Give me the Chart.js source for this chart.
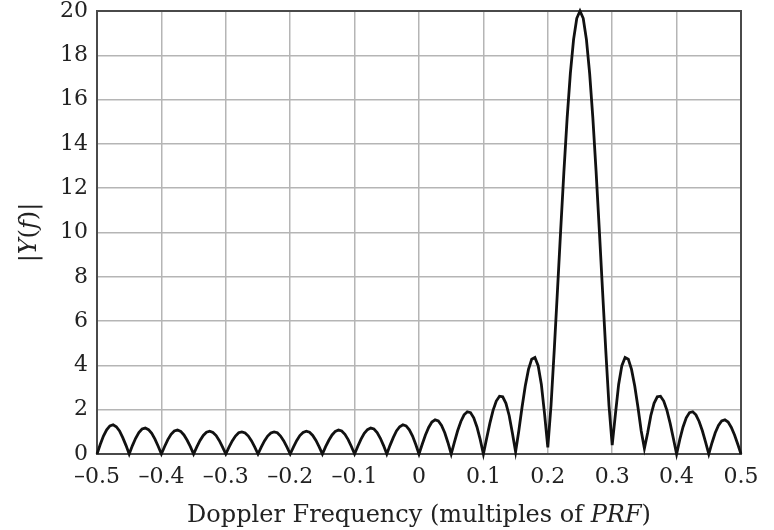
<!DOCTYPE html>
<html>
<head>
<meta charset="utf-8">
<script src="https://cdn.jsdelivr.net/npm/chart.js@4"></script>
<style>
  body { margin: 0; background: #fff; }
</style>
</head>
<body>
<canvas id="chart" width="774" height="530"></canvas>
<script>
// sample frequencies (multiples of PRF)
const freqs = [
  -0.5, -0.495, -0.49, -0.485, -0.48, -0.475, -0.47, -0.465, -0.46, -0.455,
  -0.45, -0.445, -0.44, -0.435, -0.43, -0.425, -0.42, -0.415, -0.41, -0.405,
  -0.4, -0.395, -0.39, -0.385, -0.38, -0.375, -0.37, -0.365, -0.36, -0.355,
  -0.35, -0.345, -0.34, -0.335, -0.33, -0.325, -0.32, -0.315, -0.31, -0.305,
  -0.3, -0.295, -0.29, -0.285, -0.28, -0.275, -0.27, -0.265, -0.26, -0.255,
  -0.25, -0.245, -0.24, -0.235, -0.23, -0.225, -0.22, -0.215, -0.21, -0.205,
  -0.2, -0.195, -0.19, -0.185, -0.18, -0.175, -0.17, -0.165, -0.16, -0.155,
  -0.15, -0.145, -0.14, -0.135, -0.13, -0.125, -0.12, -0.115, -0.11, -0.105,
  -0.1, -0.095, -0.09, -0.085, -0.08, -0.075, -0.07, -0.065, -0.06, -0.055,
  -0.05, -0.045, -0.04, -0.035, -0.03, -0.025, -0.02, -0.015, -0.01, -0.005,
  0, 0.005, 0.01, 0.015, 0.02, 0.025, 0.03, 0.035, 0.04, 0.045,
  0.05, 0.055, 0.06, 0.065, 0.07, 0.075, 0.08, 0.085, 0.09, 0.095,
  0.1, 0.105, 0.11, 0.115, 0.12, 0.125, 0.13, 0.135, 0.14, 0.145,
  0.15, 0.155, 0.16, 0.165, 0.17, 0.175, 0.18, 0.185, 0.19, 0.195,
  0.2, 0.205, 0.21, 0.215, 0.22, 0.225, 0.23, 0.235, 0.24, 0.245,
  0.25, 0.255, 0.26, 0.265, 0.27, 0.275, 0.28, 0.285, 0.29, 0.295,
  0.3, 0.305, 0.31, 0.315, 0.32, 0.325, 0.33, 0.335, 0.34, 0.345,
  0.35, 0.355, 0.36, 0.365, 0.37, 0.375, 0.38, 0.385, 0.39, 0.395,
  0.4, 0.405, 0.41, 0.415, 0.42, 0.425, 0.43, 0.435, 0.44, 0.445,
  0.45, 0.455, 0.46, 0.465, 0.47, 0.475, 0.48, 0.485, 0.49, 0.495,
  0.5
];

// |Y(f)|
const magnitude = [
  0, 0.43, 0.81, 1.09, 1.27, 1.32, 1.23, 1.04, 0.74, 0.39,
  0, 0.38, 0.71, 0.97, 1.13, 1.17, 1.10, 0.93, 0.67, 0.35,
  0, 0.34, 0.65, 0.89, 1.04, 1.08, 1.02, 0.86, 0.62, 0.33,
  0, 0.32, 0.61, 0.84, 0.98, 1.03, 0.97, 0.83, 0.60, 0.31,
  0, 0.31, 0.59, 0.81, 0.96, 1.00, 0.95, 0.81, 0.59, 0.31,
  0, 0.31, 0.59, 0.81, 0.95, 1.00, 0.96, 0.81, 0.59, 0.31,
  0, 0.31, 0.60, 0.83, 0.97, 1.03, 0.98, 0.84, 0.61, 0.32,
  0, 0.33, 0.62, 0.86, 1.02, 1.08, 1.04, 0.89, 0.65, 0.34,
  0, 0.35, 0.67, 0.93, 1.10, 1.17, 1.13, 0.97, 0.71, 0.38,
  0, 0.39, 0.74, 1.04, 1.23, 1.32, 1.27, 1.09, 0.81, 0.43,
  0, 0.44, 0.86, 1.20, 1.44, 1.54, 1.49, 1.29, 0.96, 0.51,
  0, 0.54, 1.05, 1.47, 1.77, 1.91, 1.87, 1.63, 1.22, 0.66,
  0, 0.70, 1.38, 1.97, 2.39, 2.61, 2.58, 2.29, 1.74, 0.95,
  0.1, 1.05, 2.11, 3.07, 3.82, 4.28, 4.36, 3.99, 3.14, 1.80,
  0.3, 2.19, 4.69, 7.37, 10.11, 12.75, 15.15, 17.17, 18.71, 19.67,
  20, 19.67, 18.71, 17.17, 15.15, 12.75, 10.11, 7.37, 4.69, 2.19,
  0.4, 1.80, 3.14, 3.99, 4.36, 4.28, 3.82, 3.07, 2.11, 1.05,
  0.25, 0.95, 1.74, 2.29, 2.58, 2.61, 2.39, 1.97, 1.38, 0.70,
  0, 0.66, 1.22, 1.63, 1.87, 1.91, 1.77, 1.47, 1.05, 0.54,
  0, 0.51, 0.96, 1.29, 1.49, 1.54, 1.44, 1.20, 0.86, 0.44,
  0
];

const xTitle = [['Doppler Frequency (multiples of ', false], ['PRF', true], [')', false]];
const yTitle = [['|', false], ['Y', true], ['(', false], ['f', true], [')|', false]];

const serif = '"DejaVu Serif", "Liberation Serif", serif';

function drawMixed(ctx, parts, size) {
  let total = 0;
  parts.forEach(p => {
    ctx.font = (p[1] ? 'italic ' : '') + size + 'px ' + serif;
    total += ctx.measureText(p[0]).width;
  });
  let x = -total / 2;
  parts.forEach(p => {
    ctx.font = (p[1] ? 'italic ' : '') + size + 'px ' + serif;
    ctx.fillText(p[0], x, 0);
    x += ctx.measureText(p[0]).width;
  });
}

const framePlugin = {
  id: 'frame',
  beforeDatasetsDraw(chart) {
    const { ctx, chartArea: a } = chart;
    ctx.save();
    ctx.strokeStyle = '#4a4a4a';
    ctx.lineWidth = 2;
    ctx.strokeRect(a.left, a.top, a.right - a.left, a.bottom - a.top);
    ctx.restore();
  },
  afterDraw(chart) {
    const { ctx, chartArea: a } = chart;
    ctx.save();
    ctx.fillStyle = '#222';
    ctx.textBaseline = 'middle';
    ctx.translate((a.left + a.right) / 2, 516);
    drawMixed(ctx, xTitle, 24);
    ctx.restore();
    ctx.save();
    ctx.fillStyle = '#222';
    ctx.textBaseline = 'middle';
    ctx.translate(30, (a.top + a.bottom) / 2);
    ctx.rotate(-Math.PI / 2);
    drawMixed(ctx, yTitle, 24);
    ctx.restore();
  }
};

const fmt = v => {
  const r = Math.round(v * 10) / 10;
  if (r === 0) return '0';
  return r < 0 ? '\u2013' + Math.abs(r).toFixed(1) : r.toFixed(1);
};

new Chart(document.getElementById('chart'), {
  type: 'line',
  data: {
    datasets: [{
      data: freqs.map((f, i) => ({ x: f, y: magnitude[i] })),
      borderColor: '#111',
      borderWidth: 2.8,
      pointRadius: 0,
      tension: 0,
      clip: false
    }]
  },
  options: {
    responsive: false,
    devicePixelRatio: 1,
    animation: false,
    layout: { padding: { top: 11, right: 33, left: 0, bottom: 0 } },
    plugins: { legend: { display: false }, tooltip: { enabled: false } },
    scales: {
      x: {
        type: 'linear',
        min: -0.5,
        max: 0.5,
        afterFit: s => { s.height = 76; },
        ticks: {
          stepSize: 0.1,
          autoSkip: false,
          maxRotation: 0,
          padding: 10,
          color: '#222',
          font: { family: serif, size: 22 },
          callback: fmt
        },
        grid: { color: '#b5b5b5', lineWidth: 1.5, drawTicks: false },
        border: { display: false }
      },
      y: {
        min: 0,
        max: 20,
        afterFit: s => { s.width = 97; s.paddingTop = 0; s.paddingBottom = 0; },
        ticks: {
          stepSize: 2,
          padding: 9,
          color: '#222',
          font: { family: serif, size: 22 }
        },
        grid: { color: '#b5b5b5', lineWidth: 1.5, drawTicks: false },
        border: { display: false }
      }
    }
  },
  plugins: [framePlugin]
});
</script>
</body>
</html>
